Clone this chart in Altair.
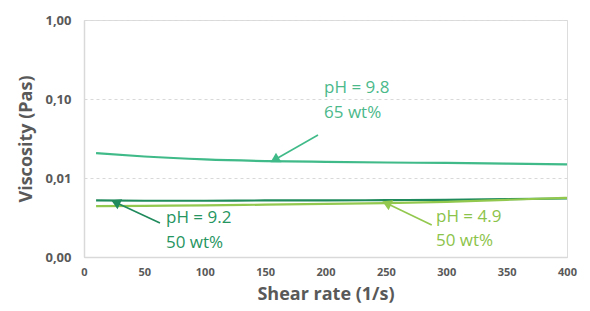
import altair as alt
import pandas as pd

# ---- data ----
shear = [10, 50, 100, 150, 200, 250, 300, 350, 400]
visc_98 = [0.0206, 0.0187, 0.0172, 0.0164, 0.0160, 0.0157, 0.0155, 0.0152, 0.0149]
visc_92 = [0.0052, 0.00515, 0.00515, 0.0052, 0.0052, 0.00525, 0.0053, 0.0054, 0.0055]
visc_49 = [0.0044, 0.00445, 0.0045, 0.0046, 0.0047, 0.0048, 0.0050, 0.0053, 0.0056]
series_names = ["pH 9.8, 65 wt%", "pH 9.2, 50 wt%", "pH 4.9, 50 wt%"]
colors = ["#3fba88", "#1f8a5b", "#92c84e"]
text_colors = ["#4cb98b", "#26955f", "#8cc34a"]

# annotations: label lines, text anchor, arrow tail, arrow head (data coords)
ann_line1 = ["pH = 9.8", "pH = 9.2", "pH = 4.9"]
ann_line2 = ["65 wt%", "50 wt%", "50 wt%"]
ann_text_x = [198.8, 67.9, 291.5]
ann_text_y1 = [0.138, 0.00312, 0.00318]
ann_text_y2 = [0.0665, 0.00150, 0.00160]
arrow_tail_x = [193.8, 62.9, 288.0]
arrow_tail_y = [0.035, 0.00269, 0.00254]
arrow_head_x = [159.0, 27.3, 251.8]
arrow_head_y = [0.0174, 0.00483, 0.00469]
arrow_angle = [240, 295, 295]

x_ticks = [0, 50, 100, 150, 200, 250, 300, 350, 400]
y_ticks = [0.001, 0.01, 0.1, 1.0]

rows = []
for name, vals in zip(series_names, [visc_98, visc_92, visc_49]):
    for s, v in zip(shear, vals):
        rows.append({"series": name, "shear": s, "visc": v})
df = pd.DataFrame(rows)

ann = pd.DataFrame({
    "series": series_names, "l1": ann_line1, "l2": ann_line2,
    "tx": ann_text_x, "ty1": ann_text_y1, "ty2": ann_text_y2,
    "ax": arrow_tail_x, "ay": arrow_tail_y, "hx": arrow_head_x, "hy": arrow_head_y,
    "angle": arrow_angle,
})

font = "Open Sans"
gray = "#595959"

xscale = alt.Scale(domain=[0, 400], nice=False)
yscale = alt.Scale(type="log", domain=[0.001, 1])
color_scale = alt.Scale(domain=series_names, range=colors)
tcolor_scale = alt.Scale(domain=series_names, range=text_colors)

x_enc = alt.X("shear:Q", scale=xscale,
              axis=alt.Axis(title="Shear rate (1/s)", values=x_ticks, grid=False,
                            ticks=False, domain=True, domainColor="#d9d9d9", domainWidth=1.5,
                            labelFlush=False,
                            labelFont=font, labelFontWeight="bold", labelFontSize=11,
                            labelColor=gray, labelPadding=9,
                            titleFont=font, titleFontSize=18, titleFontWeight="bold",
                            titleColor=gray, titlePadding=8))
y_enc = alt.Y("visc:Q", scale=yscale,
              axis=alt.Axis(title="Viscosity (Pas)", values=y_ticks,
                            labelExpr="replace(format(datum.value, '.2f'), '.', ',')",
                            grid=True, gridColor="#d9d9d9", gridDash=[3, 3],
                            ticks=False, domain=True, domainColor="#d9d9d9", domainWidth=1.5,
                            labelFlush=False,
                            labelFont=font, labelFontWeight="bold", labelFontSize=13,
                            labelColor=gray, labelPadding=13,
                            titleFont=font, titleFontSize=18, titleFontWeight="bold",
                            titleColor=gray, titlePadding=9))

lines = alt.Chart(df).mark_line(strokeWidth=2.2, interpolate="monotone").encode(
    x=x_enc, y=y_enc,
    color=alt.Color("series:N", scale=color_scale, legend=None),
)

base_ann = alt.Chart(ann)
arrow_lines = base_ann.mark_rule(strokeWidth=1.6).encode(
    x=alt.X("ax:Q", scale=xscale), y=alt.Y("ay:Q", scale=yscale),
    x2="hx:Q", y2="hy:Q",
    color=alt.Color("series:N", scale=color_scale, legend=None),
)
arrow_heads = base_ann.mark_point(shape="triangle", filled=True, size=120, opacity=1).encode(
    x=alt.X("hx:Q", scale=xscale), y=alt.Y("hy:Q", scale=yscale),
    angle=alt.Angle("angle:Q", scale=None),
    color=alt.Color("series:N", scale=color_scale, legend=None),
)
text1 = base_ann.mark_text(align="left", baseline="middle", font=font, fontSize=17).encode(
    x=alt.X("tx:Q", scale=xscale), y=alt.Y("ty1:Q", scale=yscale), text="l1:N",
    color=alt.Color("series:N", scale=tcolor_scale, legend=None),
)
text2 = base_ann.mark_text(align="left", baseline="middle", font=font, fontSize=17).encode(
    x=alt.X("tx:Q", scale=xscale), y=alt.Y("ty2:Q", scale=yscale), text="l2:N",
    color=alt.Color("series:N", scale=tcolor_scale, legend=None),
)

chart = alt.layer(lines, arrow_lines, arrow_heads, text1, text2).resolve_scale(
    color="independent"
).properties(
    width=483, height=237,
    autosize=alt.AutoSizeParams(type="none"),
    padding={"left": 76, "top": 12, "right": 15, "bottom": 46},
).configure_view(stroke=None).configure(background="white")

chart.save("out.html", embed_options={"renderer": "svg", "actions": False})
